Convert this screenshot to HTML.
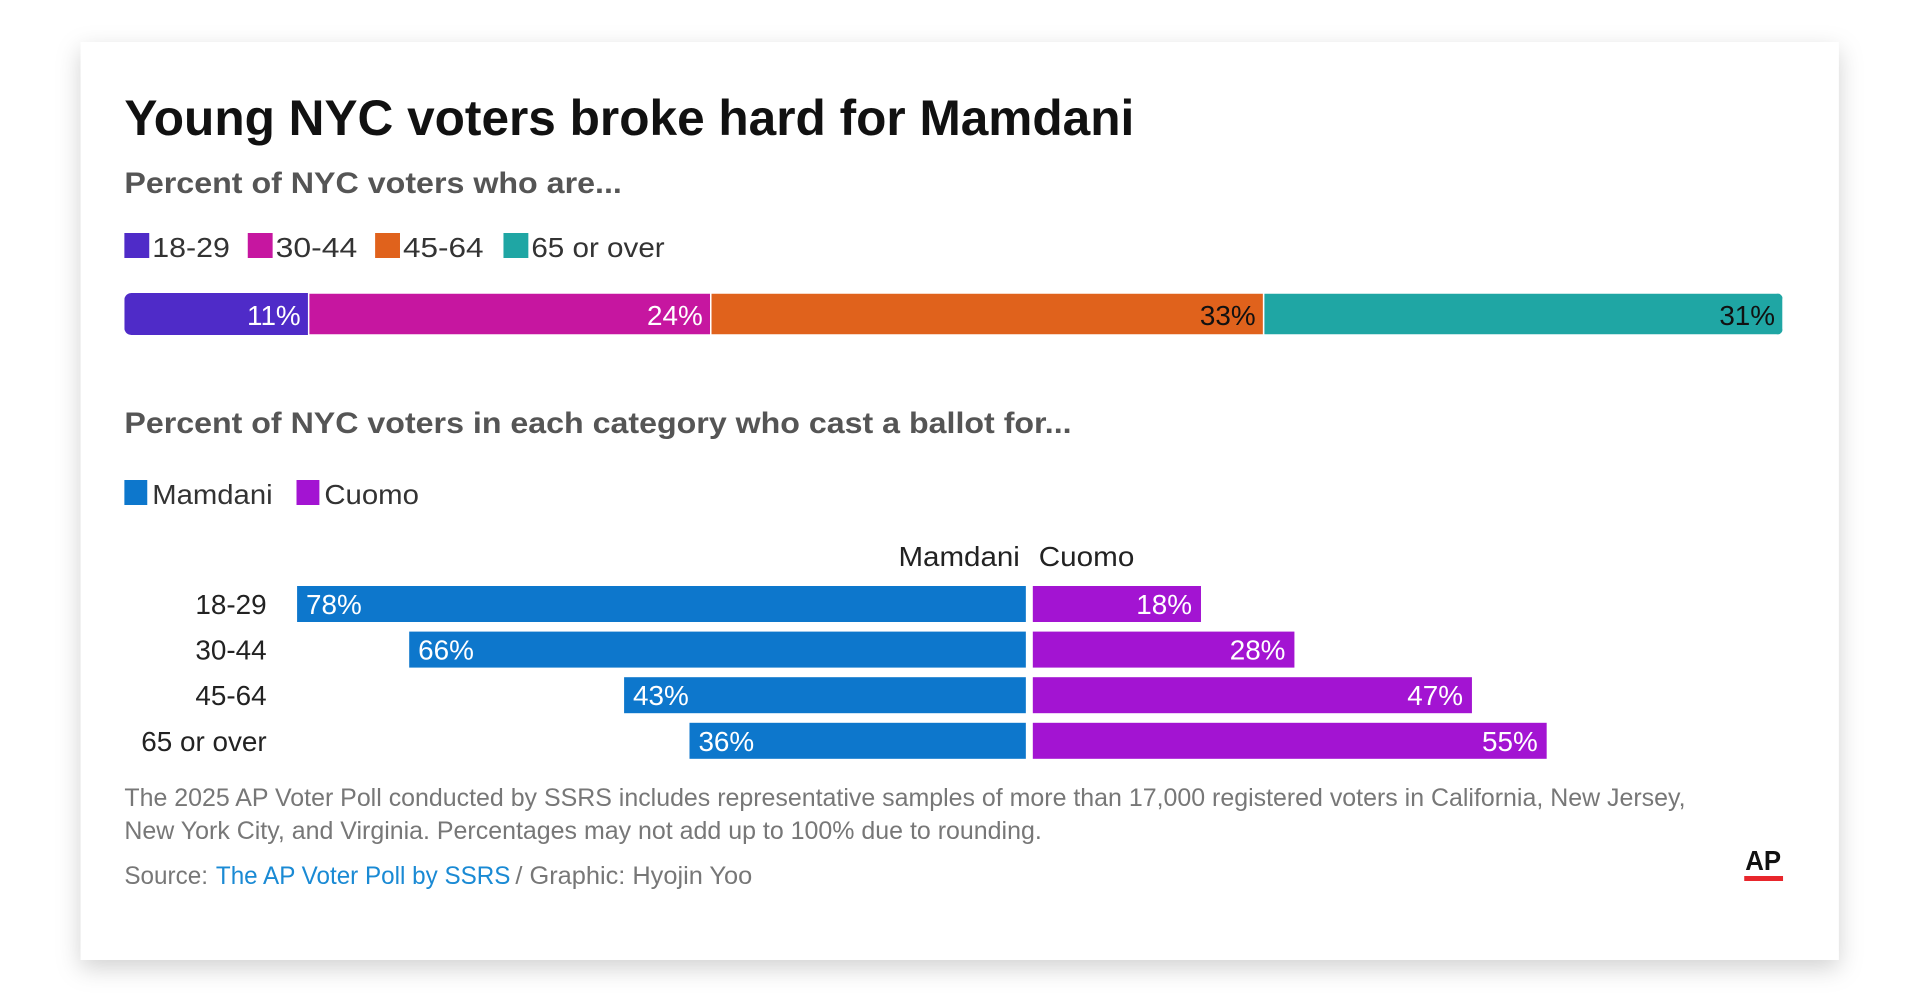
<!DOCTYPE html>
<html><head><meta charset="utf-8"><style>
html,body{margin:0;padding:0;background:#fff;}
svg{display:block;font-family:"Liberation Sans",sans-serif;}
</style></head><body>
<svg id="chart" width="1920" height="1001" viewBox="0 0 1920 1001" xmlns="http://www.w3.org/2000/svg">
<defs><filter id="sh" x="-5%" y="-10%" width="110%" height="125%"><feDropShadow dx="0" dy="8" stdDeviation="12" flood-color="#000" flood-opacity="0.18"/></filter></defs>
<g transform="scale(0.995,1)">
<rect x="81" y="42" width="1767" height="918" fill="#fff" filter="url(#sh)"/>
<text x="125" y="135" font-size="50" font-weight="bold" fill="#111" textLength="1015" lengthAdjust="spacingAndGlyphs">Young NYC voters broke hard for Mamdani</text>
<text x="125" y="193" font-size="30" font-weight="bold" fill="#555" textLength="500" lengthAdjust="spacingAndGlyphs">Percent of NYC voters who are...</text>
<g id="legend1"></g>
<g id="stack"></g>
<text x="125" y="433" font-size="30" font-weight="bold" fill="#555" textLength="952" lengthAdjust="spacingAndGlyphs">Percent of NYC voters in each category who cast a ballot for...</text>
<g id="legend2"></g>
<text x="1025" y="566" font-size="28" fill="#222" text-anchor="end" textLength="122" lengthAdjust="spacingAndGlyphs">Mamdani</text>
<text x="1044" y="566" font-size="28" fill="#222" textLength="96" lengthAdjust="spacingAndGlyphs">Cuomo</text>
<g id="bars"></g>
<text x="125" y="806" font-size="25" fill="#777" textLength="1569" lengthAdjust="spacingAndGlyphs">The 2025 AP Voter Poll conducted by SSRS includes representative samples of more than 17,000 registered voters in California, New Jersey,</text>
<text x="125" y="839" font-size="25" fill="#777" textLength="922" lengthAdjust="spacingAndGlyphs">New York City, and Virginia. Percentages may not add up to 100% due to rounding.</text>
<text x="125" y="884" font-size="25" fill="#777" textLength="84" lengthAdjust="spacingAndGlyphs">Source:</text>
<text x="217" y="884" font-size="25" fill="#1a8ad4" textLength="296" lengthAdjust="spacingAndGlyphs">The AP Voter Poll by SSRS</text>
<text x="518" y="884" font-size="25" fill="#777" textLength="238" lengthAdjust="spacingAndGlyphs">/ Graphic: Hyojin Yoo</text>
<text x="1772" y="870" font-size="28" font-weight="bold" fill="#111" text-anchor="middle" textLength="36" lengthAdjust="spacingAndGlyphs">AP</text>
<rect x="1753" y="876" width="39" height="5" fill="#e8262c"/>
</g>
</svg>
<script>
const ageGroups = ["18-29","30-44","45-64","65 or over"];
const ageShare = [11,24,33,31];
const ageColors = ["#4f2bc8","#c616a0","#e0621c","#1fa6a4"];
const ageLabelColors = ["#fff","#fff","#111","#111"];
const rowLabels = ["18-29","30-44","45-64","65 or over"];
const mamdani = [78,66,43,36];
const cuomo = [18,28,47,55];
const NS="http://www.w3.org/2000/svg";
function mk(tag,attrs,parent,txt){const e=document.createElementNS(NS,tag);for(const k in attrs)e.setAttribute(k,attrs[k]);if(txt!==undefined)e.textContent=txt;parent.appendChild(e);return e;}

// legend 1
const l1=document.getElementById('legend1');
const l1x=[125,249,377,506];
const l1w=[78,82,81,134];
ageGroups.forEach((g,i)=>{
  const r=mk('rect',{x:l1x[i],y:233,width:25,height:25,fill:ageColors[i]},l1);
  
  
  const t=mk('text',{x:l1x[i]+28,y:257,'font-size':28,fill:'#333',textLength:l1w[i],lengthAdjust:'spacingAndGlyphs'},l1,g);
  
  
});

// stacked bar
const st=document.getElementById('stack');
const sx0=125,sx1=1792,sy=293,sh=42;
const total=ageShare.reduce((a,b)=>a+b,0);
const xs=v=>sx0+(sx1-sx0)*v/total;
mk('clipPath',{id:'rc'},st);
mk('rect',{x:sx0,y:sy,width:sx1-sx0,height:sh,rx:7},document.getElementById('rc'));
let acc=0;
ageShare.forEach((v,i)=>{
  const a=xs(acc),b=xs(acc+v);acc+=v;
  const r=mk('rect',{x:a,y:sy,width:b-a,height:sh,fill:ageColors[i],'clip-path':'url(#rc)',stroke:'#fff','stroke-width':i?1.5:0},st);
  
  
  const t=mk('text',{x:b-8,y:sy+32,'font-size':28,fill:ageLabelColors[i],'text-anchor':'end'},st,v+'%');
  
  
});

// legend 2
const l2=document.getElementById('legend2');
[["Mamdani","#0d77cc",125,121],["Cuomo","#a314d2",298,95]].forEach(d=>{
  const r=mk('rect',{x:d[2],y:480,width:23,height:25,fill:d[1]},l2);
  
  
  const t=mk('text',{x:d[2]+28,y:504,'font-size':28,fill:'#333',textLength:d[3],lengthAdjust:'spacingAndGlyphs'},l2,d[0]);
  
  
});

// butterfly bars
const bg=document.getElementById('bars');
const cL=1031,cR=1038,pp=9.39,y0=586,bh=36,step=45.6;
rowLabels.forEach((lab,i)=>{
  const y=y0+i*step;
  const t=mk('text',{x:268,y:y+28,'font-size':28,fill:'#222','text-anchor':'end'},bg,lab);
  
  
  const mw=mamdani[i]*pp;
  const m=mk('rect',{x:cL-mw,y:y,width:mw,height:bh,fill:'#0d77cc'},bg);
  
  
  const mt=mk('text',{x:cL-mw+9,y:y+28,'font-size':28,fill:'#fff'},bg,mamdani[i]+'%');
  
  
  const cw=cuomo[i]*pp;
  const c=mk('rect',{x:cR,y:y,width:cw,height:bh,fill:'#a314d2'},bg);
  
  
  const ct=mk('text',{x:cR+cw-9,y:y+28,'font-size':28,fill:'#fff','text-anchor':'end'},bg,cuomo[i]+'%');
  
  
});
</script>
</body></html>
